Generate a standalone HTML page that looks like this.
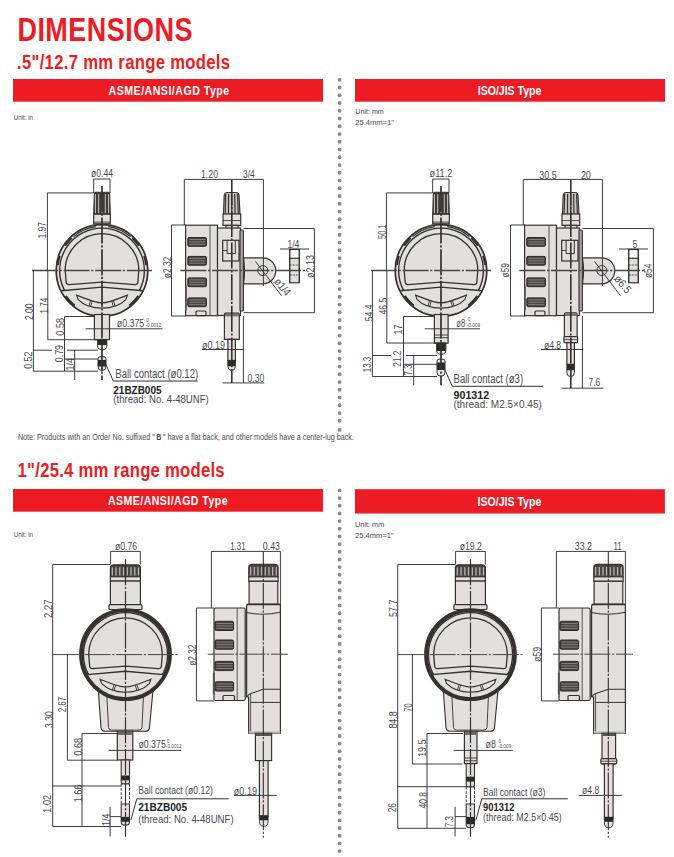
<!DOCTYPE html>
<html><head><meta charset="utf-8"><style>
html,body{margin:0;padding:0;background:#fff;width:674px;height:857px;overflow:hidden}
svg{display:block;font-family:"Liberation Sans", sans-serif}
</style></head><body>
<svg width="674" height="857" viewBox="0 0 674 857">
<text x="21.08" y="40.8" transform="scale(0.83,1)" font-size="32.5" fill="#ed1c24" font-weight="bold" textLength="210.8" lengthAdjust="spacing">DIMENSIONS</text>
<text x="19.77" y="69.0" transform="scale(0.86,1)" font-size="19.4" fill="#ed1c24" font-weight="bold" textLength="247.7" lengthAdjust="spacing">.5"/12.7 mm range models</text>
<rect x="13" y="79" width="310" height="22.7" fill="#ed1c24"/>
<rect x="355" y="79" width="310" height="22.7" fill="#ed1c24"/>
<text x="129.29" y="94.7" transform="scale(0.84,1)" font-size="12.6" fill="#fff" font-weight="bold" textLength="143.5" lengthAdjust="spacing">ASME/ANSI/AGD Type</text>
<text x="568.81" y="94.7" transform="scale(0.84,1)" font-size="12.6" fill="#fff" font-weight="bold" textLength="75.6" lengthAdjust="spacing">ISO/JIS Type</text>
<text x="13.8" y="119.8" font-size="7.6" fill="#4a4a52" font-weight="normal" text-anchor="start" textLength="19.2" lengthAdjust="spacingAndGlyphs">Unit: in</text>
<text x="355.3" y="113.8" font-size="7.6" fill="#4a4a52" font-weight="normal" text-anchor="start" textLength="28.5" lengthAdjust="spacingAndGlyphs">Unit: mm</text>
<text x="355.3" y="124.5" font-size="7.6" fill="#4a4a52" font-weight="normal" text-anchor="start" textLength="38.7" lengthAdjust="spacingAndGlyphs">25.4mm=1"</text>
<text x="17.9" y="440" font-size="8.6" fill="#4a4a52" textLength="336" lengthAdjust="spacingAndGlyphs">Note: Products with an Order No. suffixed "&#8201;<tspan font-weight="bold">B</tspan>&#8201;" have a flat back, and other models have a center-lug back.</text>
<circle cx="339.6" cy="79.8" r="1.95" fill="#8a8a8a"/>
<circle cx="339.6" cy="87.5" r="1.95" fill="#8a8a8a"/>
<circle cx="339.6" cy="95.3" r="1.95" fill="#8a8a8a"/>
<circle cx="339.6" cy="103.0" r="1.95" fill="#8a8a8a"/>
<circle cx="339.6" cy="110.8" r="1.95" fill="#8a8a8a"/>
<circle cx="339.6" cy="118.5" r="1.95" fill="#8a8a8a"/>
<circle cx="339.6" cy="126.3" r="1.95" fill="#8a8a8a"/>
<circle cx="339.6" cy="134.1" r="1.95" fill="#8a8a8a"/>
<circle cx="339.6" cy="141.8" r="1.95" fill="#8a8a8a"/>
<circle cx="339.6" cy="149.6" r="1.95" fill="#8a8a8a"/>
<circle cx="339.6" cy="157.3" r="1.95" fill="#8a8a8a"/>
<circle cx="339.6" cy="165.1" r="1.95" fill="#8a8a8a"/>
<circle cx="339.6" cy="172.8" r="1.95" fill="#8a8a8a"/>
<circle cx="339.6" cy="180.6" r="1.95" fill="#8a8a8a"/>
<circle cx="339.6" cy="188.3" r="1.95" fill="#8a8a8a"/>
<circle cx="339.6" cy="196.1" r="1.95" fill="#8a8a8a"/>
<circle cx="339.6" cy="203.8" r="1.95" fill="#8a8a8a"/>
<circle cx="339.6" cy="211.6" r="1.95" fill="#8a8a8a"/>
<circle cx="339.6" cy="219.3" r="1.95" fill="#8a8a8a"/>
<circle cx="339.6" cy="227.1" r="1.95" fill="#8a8a8a"/>
<circle cx="339.6" cy="234.8" r="1.95" fill="#8a8a8a"/>
<circle cx="339.6" cy="242.6" r="1.95" fill="#8a8a8a"/>
<circle cx="339.6" cy="250.3" r="1.95" fill="#8a8a8a"/>
<circle cx="339.6" cy="258.1" r="1.95" fill="#8a8a8a"/>
<circle cx="339.6" cy="265.8" r="1.95" fill="#8a8a8a"/>
<circle cx="339.6" cy="273.6" r="1.95" fill="#8a8a8a"/>
<circle cx="339.6" cy="281.3" r="1.95" fill="#8a8a8a"/>
<circle cx="339.6" cy="289.1" r="1.95" fill="#8a8a8a"/>
<circle cx="339.6" cy="296.8" r="1.95" fill="#8a8a8a"/>
<circle cx="339.6" cy="304.6" r="1.95" fill="#8a8a8a"/>
<circle cx="339.6" cy="312.3" r="1.95" fill="#8a8a8a"/>
<circle cx="339.6" cy="320.1" r="1.95" fill="#8a8a8a"/>
<circle cx="339.6" cy="327.8" r="1.95" fill="#8a8a8a"/>
<circle cx="339.6" cy="335.6" r="1.95" fill="#8a8a8a"/>
<circle cx="339.6" cy="343.3" r="1.95" fill="#8a8a8a"/>
<circle cx="339.6" cy="351.1" r="1.95" fill="#8a8a8a"/>
<circle cx="339.6" cy="358.8" r="1.95" fill="#8a8a8a"/>
<circle cx="339.6" cy="366.6" r="1.95" fill="#8a8a8a"/>
<circle cx="339.6" cy="374.3" r="1.95" fill="#8a8a8a"/>
<circle cx="339.6" cy="382.1" r="1.95" fill="#8a8a8a"/>
<circle cx="339.6" cy="389.8" r="1.95" fill="#8a8a8a"/>
<circle cx="339.6" cy="397.6" r="1.95" fill="#8a8a8a"/>
<circle cx="339.6" cy="405.3" r="1.95" fill="#8a8a8a"/>
<circle cx="339.6" cy="413.1" r="1.95" fill="#8a8a8a"/>
<circle cx="339.6" cy="420.8" r="1.95" fill="#8a8a8a"/>
<circle cx="339.6" cy="429.9" r="1.95" fill="#8a8a8a"/>
<circle cx="339.6" cy="490.4" r="1.95" fill="#8a8a8a"/>
<circle cx="339.6" cy="498.1" r="1.95" fill="#8a8a8a"/>
<circle cx="339.6" cy="505.7" r="1.95" fill="#8a8a8a"/>
<circle cx="339.6" cy="513.4" r="1.95" fill="#8a8a8a"/>
<circle cx="339.6" cy="521.1" r="1.95" fill="#8a8a8a"/>
<circle cx="339.6" cy="528.8" r="1.95" fill="#8a8a8a"/>
<circle cx="339.6" cy="536.4" r="1.95" fill="#8a8a8a"/>
<circle cx="339.6" cy="544.1" r="1.95" fill="#8a8a8a"/>
<circle cx="339.6" cy="551.8" r="1.95" fill="#8a8a8a"/>
<circle cx="339.6" cy="559.5" r="1.95" fill="#8a8a8a"/>
<circle cx="339.6" cy="567.1" r="1.95" fill="#8a8a8a"/>
<circle cx="339.6" cy="574.8" r="1.95" fill="#8a8a8a"/>
<circle cx="339.6" cy="582.5" r="1.95" fill="#8a8a8a"/>
<circle cx="339.6" cy="590.2" r="1.95" fill="#8a8a8a"/>
<circle cx="339.6" cy="597.8" r="1.95" fill="#8a8a8a"/>
<circle cx="339.6" cy="605.5" r="1.95" fill="#8a8a8a"/>
<circle cx="339.6" cy="613.2" r="1.95" fill="#8a8a8a"/>
<circle cx="339.6" cy="620.9" r="1.95" fill="#8a8a8a"/>
<circle cx="339.6" cy="628.5" r="1.95" fill="#8a8a8a"/>
<circle cx="339.6" cy="636.2" r="1.95" fill="#8a8a8a"/>
<circle cx="339.6" cy="643.9" r="1.95" fill="#8a8a8a"/>
<circle cx="339.6" cy="651.6" r="1.95" fill="#8a8a8a"/>
<circle cx="339.6" cy="659.2" r="1.95" fill="#8a8a8a"/>
<circle cx="339.6" cy="666.9" r="1.95" fill="#8a8a8a"/>
<circle cx="339.6" cy="674.6" r="1.95" fill="#8a8a8a"/>
<circle cx="339.6" cy="682.2" r="1.95" fill="#8a8a8a"/>
<circle cx="339.6" cy="689.9" r="1.95" fill="#8a8a8a"/>
<circle cx="339.6" cy="697.6" r="1.95" fill="#8a8a8a"/>
<circle cx="339.6" cy="705.3" r="1.95" fill="#8a8a8a"/>
<circle cx="339.6" cy="712.9" r="1.95" fill="#8a8a8a"/>
<circle cx="339.6" cy="720.6" r="1.95" fill="#8a8a8a"/>
<circle cx="339.6" cy="728.3" r="1.95" fill="#8a8a8a"/>
<circle cx="339.6" cy="736.0" r="1.95" fill="#8a8a8a"/>
<circle cx="339.6" cy="743.6" r="1.95" fill="#8a8a8a"/>
<circle cx="339.6" cy="751.3" r="1.95" fill="#8a8a8a"/>
<circle cx="339.6" cy="759.0" r="1.95" fill="#8a8a8a"/>
<circle cx="339.6" cy="766.7" r="1.95" fill="#8a8a8a"/>
<circle cx="339.6" cy="774.3" r="1.95" fill="#8a8a8a"/>
<circle cx="339.6" cy="782.0" r="1.95" fill="#8a8a8a"/>
<circle cx="339.6" cy="789.7" r="1.95" fill="#8a8a8a"/>
<circle cx="339.6" cy="797.4" r="1.95" fill="#8a8a8a"/>
<circle cx="339.6" cy="805.0" r="1.95" fill="#8a8a8a"/>
<circle cx="339.6" cy="812.7" r="1.95" fill="#8a8a8a"/>
<circle cx="339.6" cy="820.4" r="1.95" fill="#8a8a8a"/>
<circle cx="339.6" cy="828.1" r="1.95" fill="#8a8a8a"/>
<circle cx="339.6" cy="835.7" r="1.95" fill="#8a8a8a"/>
<circle cx="339.6" cy="843.4" r="1.95" fill="#8a8a8a"/>
<circle cx="339.6" cy="851.1" r="1.95" fill="#8a8a8a"/>
<text x="20.47" y="477.1" transform="scale(0.86,1)" font-size="19.4" fill="#ed1c24" font-weight="bold" textLength="240.7" lengthAdjust="spacing">1"/25.4 mm range models</text>
<rect x="13" y="489" width="310" height="22.7" fill="#ed1c24"/>
<rect x="354.9" y="489.2" width="310" height="24.3" fill="#ed1c24"/>
<text x="128.57" y="504.7" transform="scale(0.84,1)" font-size="12.6" fill="#fff" font-weight="bold" textLength="142.3" lengthAdjust="spacing">ASME/ANSI/AGD Type</text>
<text x="568.45" y="505.8" transform="scale(0.84,1)" font-size="12.6" fill="#fff" font-weight="bold" textLength="76.0" lengthAdjust="spacing">ISO/JIS Type</text>
<text x="13.8" y="536.8" font-size="7.6" fill="#4a4a52" font-weight="normal" text-anchor="start" textLength="19.2" lengthAdjust="spacingAndGlyphs">Unit: in</text>
<text x="355.1" y="527.0" font-size="8.0" fill="#4a4a52" font-weight="normal" text-anchor="start" textLength="29.1" lengthAdjust="spacingAndGlyphs">Unit: mm</text>
<text x="355.1" y="537.6" font-size="8.0" fill="#4a4a52" font-weight="normal" text-anchor="start" textLength="38.6" lengthAdjust="spacingAndGlyphs">25.4mm=1"</text>
<path d="M93.7,214.2 L94.3,194.2 Q94.5,192.2 95.7,192.2 L108.3,192.2 Q109.5,192.2 109.7,194.2 L110.3,214.2 Z" fill="#3f3b3b" stroke="#353131" stroke-width="1.1"/>
<line x1="95.4" y1="194.2" x2="95.4" y2="213.2" stroke="#c9c4c4" stroke-width="1.0"/>
<line x1="98.7" y1="194.2" x2="98.7" y2="213.2" stroke="#c9c4c4" stroke-width="1.0"/>
<line x1="102.0" y1="194.2" x2="102.0" y2="213.2" stroke="#c9c4c4" stroke-width="1.0"/>
<line x1="105.3" y1="194.2" x2="105.3" y2="213.2" stroke="#c9c4c4" stroke-width="1.0"/>
<line x1="108.6" y1="194.2" x2="108.6" y2="213.2" stroke="#c9c4c4" stroke-width="1.0"/>
<rect x="93.7" y="214.2" width="16.6" height="9.6" rx="0" fill="#e3dfde" stroke="#353131" stroke-width="1.2"/>
<line x1="93.7" y1="222.1" x2="110.3" y2="222.1" stroke="#353131" stroke-width="0.9"/>
<circle cx="102" cy="270.5" r="45.8" fill="#e3dfde" stroke="#353131" stroke-width="1.7"/>
<path d="M71.7,238.0 A44.4,44.4 0 0 0 65.2,245.7" fill="none" stroke="#353131" stroke-width="1.9"/>
<path d="M60.0,256.0 A44.4,44.4 0 0 0 57.9,265.1" fill="none" stroke="#353131" stroke-width="1.9"/>
<path d="M138.8,245.7 A44.4,44.4 0 0 0 132.3,238.0" fill="none" stroke="#353131" stroke-width="1.9"/>
<path d="M146.1,265.1 A44.4,44.4 0 0 0 144.0,256.0" fill="none" stroke="#353131" stroke-width="1.9"/>
<path d="M95.8,226.6 A44.3,44.3 0 0 0 73.5,236.6" fill="none" stroke="#353131" stroke-width="1.2"/>
<path d="M130.5,236.6 A44.3,44.3 0 0 0 108.2,226.6" fill="none" stroke="#353131" stroke-width="1.2"/>
<path d="M65.5,296.0 A44.5,44.5 0 0 0 74.6,305.6" fill="none" stroke="#353131" stroke-width="2.4"/>
<path d="M129.4,305.6 A44.5,44.5 0 0 0 138.5,296.0" fill="none" stroke="#353131" stroke-width="2.4"/>
<path d="M64.5,290.3 A42.4,42.4 0 1 1 139.5,290.3 L142.7,290.8 L102,287.1 L61.3,290.8 Z" fill="#e3dfde" stroke="#353131" stroke-width="1.4"/>
<path d="M65.2,270.5 A36.8,36.8 0 0 1 138.8,270.5 L137.8,282.4 Q137.4,284.7 135.0,284.6 L102,282.1 L69.0,284.6 Q66.6,284.7 66.2,282.4 Z" fill="#e3dfde" stroke="#353131" stroke-width="1.3"/>
<path d="M76.6,295.1 C85,298.5 95,302.9 102,302.9 C109,302.9 119,298.5 127.4,295.1 L126,299.3 C120,305.5 110,308.1 102,308.1 C94,308.1 84,305.5 78,299.3 Z" fill="#e3dfde" stroke="#353131" stroke-width="1.1"/>
<line x1="113.6" y1="301.0" x2="115.1" y2="306.1" stroke="#353131" stroke-width="0.9"/>
<line x1="111.8" y1="301.0" x2="113.3" y2="306.1" stroke="#353131" stroke-width="0.9"/>
<line x1="90.4" y1="301.0" x2="88.9" y2="306.1" stroke="#353131" stroke-width="0.9"/>
<line x1="92.2" y1="301.0" x2="90.7" y2="306.1" stroke="#353131" stroke-width="0.9"/>
<rect x="94.4" y="314.5" width="15.1" height="25.2" rx="0" fill="#e3dfde" stroke="#353131" stroke-width="1.2"/>
<path d="M97.6,339.6 L106.8,339.6 L106.8,345.8 Q106.8,349.8 102.2,349.8 Q97.6,349.8 97.6,345.8 Z" fill="#e9e6e6" stroke="#353131" stroke-width="1.0"/>
<rect x="97.6" y="339.6" width="9.2" height="5.4" rx="0" fill="#2b2828" stroke="none" stroke-width="0"/>
<path d="M98,358.7 Q98,356.7 100,356.7 L104,356.7 Q106,356.7 106,358.7 L106,366.6 Q106,370.6 102,370.6 Q98,370.6 98,366.6 Z" fill="#e9e6e6" stroke="#353131" stroke-width="1.0"/>
<rect x="98.0" y="360.0" width="8.0" height="6.5" rx="0" fill="#2b2828" stroke="none" stroke-width="0"/>
<line x1="102.0" y1="186.0" x2="102.0" y2="380.0" stroke="#353131" stroke-width="1.7" stroke-dasharray="26 1.6 2.2 1.8"/>
<line x1="32.0" y1="270.5" x2="152.0" y2="270.5" stroke="#4a4646" stroke-width="1.3" stroke-dasharray="26 1.6 2.2 1.8"/>
<line x1="93.7" y1="179.0" x2="110.0" y2="179.0" stroke="#353333" stroke-width="0.95"/>
<line x1="93.7" y1="179.0" x2="93.7" y2="193.0" stroke="#353333" stroke-width="0.95"/>
<line x1="110.0" y1="179.0" x2="110.0" y2="193.0" stroke="#353333" stroke-width="0.95"/>
<line x1="47.4" y1="192.9" x2="93.7" y2="192.9" stroke="#353333" stroke-width="0.95"/>
<line x1="47.4" y1="192.9" x2="47.4" y2="270.5" stroke="#353333" stroke-width="0.95"/>
<line x1="33.4" y1="270.5" x2="33.4" y2="371.2" stroke="#353333" stroke-width="0.95"/>
<line x1="47.8" y1="270.5" x2="47.8" y2="339.7" stroke="#353333" stroke-width="0.95"/>
<line x1="47.8" y1="339.7" x2="98.0" y2="339.7" stroke="#353333" stroke-width="0.95"/>
<line x1="64.5" y1="316.5" x2="94.4" y2="316.5" stroke="#353333" stroke-width="0.95"/>
<line x1="64.5" y1="316.5" x2="64.5" y2="371.0" stroke="#353333" stroke-width="0.95"/>
<line x1="33.4" y1="350.2" x2="52.0" y2="350.2" stroke="#353333" stroke-width="0.95"/>
<line x1="67.0" y1="350.2" x2="98.0" y2="350.2" stroke="#353333" stroke-width="0.95"/>
<line x1="64.5" y1="359.0" x2="98.0" y2="359.0" stroke="#353333" stroke-width="0.95"/>
<line x1="74.7" y1="350.2" x2="74.7" y2="380.0" stroke="#353333" stroke-width="0.95"/>
<line x1="33.4" y1="371.2" x2="98.0" y2="371.2" stroke="#353333" stroke-width="0.95"/>
<line x1="85.7" y1="328.8" x2="162.4" y2="328.8" stroke="#353333" stroke-width="0.95"/>
<line x1="171.5" y1="225.0" x2="171.5" y2="316.0" stroke="#353333" stroke-width="0.95"/>
<line x1="171.5" y1="225.0" x2="186.0" y2="225.0" stroke="#353333" stroke-width="0.95"/>
<line x1="171.5" y1="316.0" x2="186.0" y2="316.0" stroke="#353333" stroke-width="0.95"/>
<line x1="105.4" y1="363.3" x2="113.3" y2="381.0" stroke="#353131" stroke-width="1.0"/>
<line x1="113.3" y1="381.0" x2="197.8" y2="381.0" stroke="#353131" stroke-width="1.0"/>
<path d="M223.5,214.3 L224.20000000000002,195.5 Q224.50000000000003,192.5 227.20000000000002,192.5 L236.0,192.5 Q238.7,192.5 239.0,195.5 L240.0,214.3 Z" fill="#c9c4c3" stroke="#353131" stroke-width="1.2"/>
<line x1="225.7" y1="194.0" x2="225.2" y2="213.8" stroke="#3a3636" stroke-width="1.2"/>
<line x1="228.6" y1="194.0" x2="228.4" y2="213.8" stroke="#3a3636" stroke-width="1.2"/>
<line x1="231.6" y1="194.0" x2="231.8" y2="213.8" stroke="#3a3636" stroke-width="1.2"/>
<line x1="234.6" y1="194.0" x2="235.1" y2="213.8" stroke="#3a3636" stroke-width="1.2"/>
<line x1="237.5" y1="194.0" x2="238.3" y2="213.8" stroke="#3a3636" stroke-width="1.2"/>
<rect x="223.0" y="214.0" width="17.7" height="11.4" rx="0" fill="#e3dfde" stroke="#353131" stroke-width="1.2"/>
<line x1="223.0" y1="220.5" x2="240.7" y2="220.5" stroke="#353131" stroke-width="0.8"/>
<rect x="226.0" y="225.4" width="12.0" height="3.6" rx="0" fill="#e3dfde" stroke="#353131" stroke-width="1.2"/>
<rect x="185.6" y="225.2" width="31.9" height="90.5" rx="0" fill="#e3dfde" stroke="#353131" stroke-width="1.2"/>
<line x1="210.0" y1="225.2" x2="210.0" y2="315.7" stroke="#353131" stroke-width="0.8"/>
<rect x="187.8" y="237.5" width="18.6" height="8.8" rx="1.2" fill="#4a4646" stroke="#2a2727" stroke-width="1.0"/>
<line x1="189.3" y1="239.5" x2="205.3" y2="239.5" stroke="#9a9595" stroke-width="0.7"/>
<line x1="189.3" y1="241.9" x2="205.3" y2="241.9" stroke="#9a9595" stroke-width="0.7"/>
<line x1="189.3" y1="244.3" x2="205.3" y2="244.3" stroke="#9a9595" stroke-width="0.7"/>
<rect x="187.8" y="256.4" width="18.6" height="8.8" rx="1.2" fill="#4a4646" stroke="#2a2727" stroke-width="1.0"/>
<line x1="189.3" y1="258.4" x2="205.3" y2="258.4" stroke="#9a9595" stroke-width="0.7"/>
<line x1="189.3" y1="260.8" x2="205.3" y2="260.8" stroke="#9a9595" stroke-width="0.7"/>
<line x1="189.3" y1="263.2" x2="205.3" y2="263.2" stroke="#9a9595" stroke-width="0.7"/>
<rect x="187.8" y="277.9" width="18.6" height="8.8" rx="1.2" fill="#4a4646" stroke="#2a2727" stroke-width="1.0"/>
<line x1="189.3" y1="279.9" x2="205.3" y2="279.9" stroke="#9a9595" stroke-width="0.7"/>
<line x1="189.3" y1="282.3" x2="205.3" y2="282.3" stroke="#9a9595" stroke-width="0.7"/>
<line x1="189.3" y1="284.7" x2="205.3" y2="284.7" stroke="#9a9595" stroke-width="0.7"/>
<rect x="187.8" y="297.9" width="18.6" height="8.8" rx="1.2" fill="#4a4646" stroke="#2a2727" stroke-width="1.0"/>
<line x1="189.3" y1="299.9" x2="205.3" y2="299.9" stroke="#9a9595" stroke-width="0.7"/>
<line x1="189.3" y1="302.3" x2="205.3" y2="302.3" stroke="#9a9595" stroke-width="0.7"/>
<line x1="189.3" y1="304.7" x2="205.3" y2="304.7" stroke="#9a9595" stroke-width="0.7"/>
<rect x="196.0" y="311.0" width="10.0" height="4.7" rx="1" fill="#e3dfde" stroke="#353131" stroke-width="1.2"/>
<rect x="185.2" y="285.5" width="1.6" height="25.0" rx="0" fill="#555" stroke="none" stroke-width="0"/>
<rect x="217.5" y="228.0" width="23.0" height="87.5" rx="0" fill="#e3dfde" stroke="#353131" stroke-width="1.2"/>
<rect x="222.7" y="240.3" width="16.3" height="20.7" rx="0" fill="#e3dfde" stroke="#353131" stroke-width="1.2"/>
<path d="M227.10000000000002,240.3 L227.10000000000002,253.6 L235.3,253.6 L235.3,240.3" fill="none" stroke="#353131" stroke-width="1.0"/>
<line x1="222.7" y1="250.5" x2="227.1" y2="250.5" stroke="#353131" stroke-width="0.9"/>
<rect x="240.0" y="230.0" width="3.4" height="81.0" rx="1" fill="#a9a4a4" stroke="#353131" stroke-width="1.1"/>
<path d="M243.5,257.8 L262.8,257.8 A13,13 0 0 1 262.8,283.8 L243.5,283.8 Q245.5,270.5 243.5,257.8 Z" fill="#e3dfde" stroke="#353131" stroke-width="1.2"/>
<circle cx="262.8" cy="270.5" r="5" fill="none" stroke="#353131" stroke-width="1"/>
<rect x="289.7" y="249.5" width="9.6" height="33.3" rx="0" fill="#e3dfde" stroke="#353131" stroke-width="1.2"/>
<rect x="289.7" y="249.5" width="9.6" height="8.8" rx="0" fill="#fff" stroke="#353131" stroke-width="1.2"/>
<line x1="289.7" y1="265.0" x2="299.3" y2="265.0" stroke="#353131" stroke-width="0.8" stroke-dasharray="2 1"/>
<line x1="289.7" y1="275.0" x2="299.3" y2="275.0" stroke="#353131" stroke-width="0.8" stroke-dasharray="2 1"/>
<path d="M224.4,339.4 L224.4,314.7 Q224.4,313.2 225.9,313.2 L237.8,313.2 Q239.3,313.2 239.3,314.7 L239.3,339.4 Z" fill="#e3dfde" stroke="#353131" stroke-width="1.2"/>
<rect x="225.0" y="313.8" width="13.7" height="2.6" rx="0" fill="#777" stroke="none" stroke-width="0"/>
<rect x="227.9" y="339.4" width="7.5" height="21.1" rx="0" fill="#e3dfde" stroke="#353131" stroke-width="1.2"/>
<path d="M227.9,360.5 L235.4,360.5 L235.4,366.5 Q235.4,370.5 231.65,370.5 Q227.9,370.5 227.9,366.5 Z" fill="#e9e6e6" stroke="#353131" stroke-width="1.0"/>
<rect x="227.9" y="360.5" width="7.5" height="5.8" rx="0" fill="#2b2828" stroke="none" stroke-width="0"/>
<line x1="231.8" y1="179.4" x2="231.8" y2="383.0" stroke="#353131" stroke-width="1.6" stroke-dasharray="26 1.6 2.2 1.8"/>
<line x1="180.4" y1="270.5" x2="305.0" y2="270.5" stroke="#4a4646" stroke-width="1.3" stroke-dasharray="26 1.6 2.2 1.8"/>
<line x1="184.3" y1="179.4" x2="263.4" y2="179.4" stroke="#353333" stroke-width="0.95"/>
<line x1="184.3" y1="179.4" x2="184.3" y2="225.0" stroke="#353333" stroke-width="0.95"/>
<line x1="263.4" y1="179.4" x2="263.4" y2="286.0" stroke="#353333" stroke-width="0.95"/>
<line x1="243.5" y1="228.5" x2="314.4" y2="228.5" stroke="#353333" stroke-width="0.95"/>
<line x1="243.5" y1="312.7" x2="314.4" y2="312.7" stroke="#353333" stroke-width="0.95"/>
<line x1="314.4" y1="228.5" x2="314.4" y2="312.7" stroke="#353333" stroke-width="0.95"/>
<line x1="255.5" y1="261.5" x2="281.5" y2="295.7" stroke="#353333" stroke-width="0.95"/>
<line x1="280.0" y1="249.0" x2="309.0" y2="249.0" stroke="#353333" stroke-width="0.95"/>
<line x1="289.7" y1="249.0" x2="289.7" y2="283.0" stroke="#353333" stroke-width="0.95"/>
<line x1="299.3" y1="249.0" x2="299.3" y2="283.0" stroke="#353333" stroke-width="0.95"/>
<line x1="202.0" y1="349.5" x2="244.0" y2="349.5" stroke="#353333" stroke-width="0.95"/>
<line x1="243.4" y1="316.0" x2="243.4" y2="383.0" stroke="#353333" stroke-width="0.95"/>
<line x1="222.6" y1="382.9" x2="264.2" y2="382.9" stroke="#353333" stroke-width="0.95"/>
<path d="M432.7,214.2 L433.3,194.2 Q433.5,192.2 434.7,192.2 L447.3,192.2 Q448.5,192.2 448.7,194.2 L449.3,214.2 Z" fill="#3f3b3b" stroke="#353131" stroke-width="1.1"/>
<line x1="434.4" y1="194.2" x2="434.4" y2="213.2" stroke="#c9c4c4" stroke-width="1.0"/>
<line x1="437.7" y1="194.2" x2="437.7" y2="213.2" stroke="#c9c4c4" stroke-width="1.0"/>
<line x1="441.0" y1="194.2" x2="441.0" y2="213.2" stroke="#c9c4c4" stroke-width="1.0"/>
<line x1="444.3" y1="194.2" x2="444.3" y2="213.2" stroke="#c9c4c4" stroke-width="1.0"/>
<line x1="447.6" y1="194.2" x2="447.6" y2="213.2" stroke="#c9c4c4" stroke-width="1.0"/>
<rect x="432.7" y="214.2" width="16.6" height="9.6" rx="0" fill="#e3dfde" stroke="#353131" stroke-width="1.2"/>
<line x1="432.7" y1="222.1" x2="449.3" y2="222.1" stroke="#353131" stroke-width="0.9"/>
<circle cx="441" cy="270.5" r="45.8" fill="#e3dfde" stroke="#353131" stroke-width="1.7"/>
<path d="M410.7,238.0 A44.4,44.4 0 0 0 404.2,245.7" fill="none" stroke="#353131" stroke-width="1.9"/>
<path d="M399.0,256.0 A44.4,44.4 0 0 0 396.9,265.1" fill="none" stroke="#353131" stroke-width="1.9"/>
<path d="M477.8,245.7 A44.4,44.4 0 0 0 471.3,238.0" fill="none" stroke="#353131" stroke-width="1.9"/>
<path d="M485.1,265.1 A44.4,44.4 0 0 0 483.0,256.0" fill="none" stroke="#353131" stroke-width="1.9"/>
<path d="M434.8,226.6 A44.3,44.3 0 0 0 412.5,236.6" fill="none" stroke="#353131" stroke-width="1.2"/>
<path d="M469.5,236.6 A44.3,44.3 0 0 0 447.2,226.6" fill="none" stroke="#353131" stroke-width="1.2"/>
<path d="M404.5,296.0 A44.5,44.5 0 0 0 413.6,305.6" fill="none" stroke="#353131" stroke-width="2.4"/>
<path d="M468.4,305.6 A44.5,44.5 0 0 0 477.5,296.0" fill="none" stroke="#353131" stroke-width="2.4"/>
<path d="M403.5,290.3 A42.4,42.4 0 1 1 478.5,290.3 L481.7,290.8 L441,287.1 L400.3,290.8 Z" fill="#e3dfde" stroke="#353131" stroke-width="1.4"/>
<path d="M404.2,270.5 A36.8,36.8 0 0 1 477.8,270.5 L476.8,282.4 Q476.4,284.7 474.0,284.6 L441,282.1 L408.0,284.6 Q405.6,284.7 405.2,282.4 Z" fill="#e3dfde" stroke="#353131" stroke-width="1.3"/>
<path d="M415.6,295.1 C424,298.5 434,302.9 441,302.9 C448,302.9 458,298.5 466.4,295.1 L465,299.3 C459,305.5 449,308.1 441,308.1 C433,308.1 423,305.5 417,299.3 Z" fill="#e3dfde" stroke="#353131" stroke-width="1.1"/>
<line x1="452.6" y1="301.0" x2="454.1" y2="306.1" stroke="#353131" stroke-width="0.9"/>
<line x1="450.8" y1="301.0" x2="452.3" y2="306.1" stroke="#353131" stroke-width="0.9"/>
<line x1="429.4" y1="301.0" x2="427.9" y2="306.1" stroke="#353131" stroke-width="0.9"/>
<line x1="431.2" y1="301.0" x2="429.7" y2="306.1" stroke="#353131" stroke-width="0.9"/>
<rect x="434.4" y="314.5" width="13.7" height="28.7" rx="0" fill="#e3dfde" stroke="#353131" stroke-width="1.2"/>
<line x1="434.4" y1="335.0" x2="448.1" y2="335.0" stroke="#353131" stroke-width="0.9"/>
<line x1="434.4" y1="337.7" x2="448.1" y2="337.7" stroke="#353131" stroke-width="0.9"/>
<path d="M436.6,342.9 L445.8,342.9 L445.8,350.3 Q445.8,354.3 441.2,354.3 Q436.6,354.3 436.6,350.3 Z" fill="#e9e6e6" stroke="#353131" stroke-width="1.0"/>
<rect x="436.6" y="342.9" width="9.2" height="8.1" rx="0" fill="#2b2828" stroke="none" stroke-width="0"/>
<path d="M437,361.2 Q437,359.2 439,359.2 L443,359.2 Q445,359.2 445,361.2 L445,372.3 Q445,376.3 441,376.3 Q437,376.3 437,372.3 Z" fill="#e9e6e6" stroke="#353131" stroke-width="1.0"/>
<rect x="437.0" y="362.5" width="8.0" height="7.5" rx="0" fill="#2b2828" stroke="none" stroke-width="0"/>
<line x1="441.0" y1="186.0" x2="441.0" y2="385.3" stroke="#353131" stroke-width="1.7" stroke-dasharray="26 1.6 2.2 1.8"/>
<line x1="371.0" y1="270.5" x2="491.0" y2="270.5" stroke="#4a4646" stroke-width="1.3" stroke-dasharray="26 1.6 2.2 1.8"/>
<line x1="432.7" y1="179.0" x2="449.0" y2="179.0" stroke="#353333" stroke-width="0.95"/>
<line x1="432.7" y1="179.0" x2="432.7" y2="193.0" stroke="#353333" stroke-width="0.95"/>
<line x1="449.0" y1="179.0" x2="449.0" y2="193.0" stroke="#353333" stroke-width="0.95"/>
<line x1="386.4" y1="192.9" x2="432.7" y2="192.9" stroke="#353333" stroke-width="0.95"/>
<line x1="386.4" y1="192.9" x2="386.4" y2="270.5" stroke="#353333" stroke-width="0.95"/>
<line x1="372.4" y1="270.5" x2="372.4" y2="376.5" stroke="#353333" stroke-width="0.95"/>
<line x1="386.8" y1="270.5" x2="386.8" y2="343.0" stroke="#353333" stroke-width="0.95"/>
<line x1="386.8" y1="343.0" x2="437.0" y2="343.0" stroke="#353333" stroke-width="0.95"/>
<line x1="403.5" y1="316.5" x2="433.4" y2="316.5" stroke="#353333" stroke-width="0.95"/>
<line x1="403.5" y1="316.5" x2="403.5" y2="376.3" stroke="#353333" stroke-width="0.95"/>
<line x1="372.4" y1="355.5" x2="391.0" y2="355.5" stroke="#353333" stroke-width="0.95"/>
<line x1="406.0" y1="355.5" x2="437.0" y2="355.5" stroke="#353333" stroke-width="0.95"/>
<line x1="403.5" y1="364.3" x2="437.0" y2="364.3" stroke="#353333" stroke-width="0.95"/>
<line x1="413.7" y1="355.5" x2="413.7" y2="385.3" stroke="#353333" stroke-width="0.95"/>
<line x1="372.4" y1="376.5" x2="437.0" y2="376.5" stroke="#353333" stroke-width="0.95"/>
<line x1="424.7" y1="328.8" x2="480.0" y2="328.8" stroke="#353333" stroke-width="0.95"/>
<line x1="510.5" y1="225.0" x2="510.5" y2="316.0" stroke="#353333" stroke-width="0.95"/>
<line x1="510.5" y1="225.0" x2="525.0" y2="225.0" stroke="#353333" stroke-width="0.95"/>
<line x1="510.5" y1="316.0" x2="525.0" y2="316.0" stroke="#353333" stroke-width="0.95"/>
<line x1="444.4" y1="368.6" x2="452.3" y2="386.3" stroke="#353131" stroke-width="1.0"/>
<line x1="452.3" y1="386.3" x2="543.0" y2="386.3" stroke="#353131" stroke-width="1.0"/>
<path d="M562.5,214.3 L563.1999999999999,195.5 Q563.4999999999999,192.5 566.1999999999999,192.5 L575.0,192.5 Q577.7,192.5 578.0,195.5 L579.0,214.3 Z" fill="#c9c4c3" stroke="#353131" stroke-width="1.2"/>
<line x1="564.7" y1="194.0" x2="564.1" y2="213.8" stroke="#3a3636" stroke-width="1.2"/>
<line x1="567.6" y1="194.0" x2="567.5" y2="213.8" stroke="#3a3636" stroke-width="1.2"/>
<line x1="570.6" y1="194.0" x2="570.8" y2="213.8" stroke="#3a3636" stroke-width="1.2"/>
<line x1="573.6" y1="194.0" x2="574.0" y2="213.8" stroke="#3a3636" stroke-width="1.2"/>
<line x1="576.5" y1="194.0" x2="577.4" y2="213.8" stroke="#3a3636" stroke-width="1.2"/>
<rect x="562.0" y="214.0" width="17.7" height="11.4" rx="0" fill="#e3dfde" stroke="#353131" stroke-width="1.2"/>
<line x1="562.0" y1="220.5" x2="579.7" y2="220.5" stroke="#353131" stroke-width="0.8"/>
<rect x="565.0" y="225.4" width="12.0" height="3.6" rx="0" fill="#e3dfde" stroke="#353131" stroke-width="1.2"/>
<rect x="524.6" y="225.2" width="31.9" height="90.5" rx="0" fill="#e3dfde" stroke="#353131" stroke-width="1.2"/>
<line x1="549.0" y1="225.2" x2="549.0" y2="315.7" stroke="#353131" stroke-width="0.8"/>
<rect x="526.8" y="237.5" width="18.6" height="8.8" rx="1.2" fill="#4a4646" stroke="#2a2727" stroke-width="1.0"/>
<line x1="528.3" y1="239.5" x2="544.3" y2="239.5" stroke="#9a9595" stroke-width="0.7"/>
<line x1="528.3" y1="241.9" x2="544.3" y2="241.9" stroke="#9a9595" stroke-width="0.7"/>
<line x1="528.3" y1="244.3" x2="544.3" y2="244.3" stroke="#9a9595" stroke-width="0.7"/>
<rect x="526.8" y="256.4" width="18.6" height="8.8" rx="1.2" fill="#4a4646" stroke="#2a2727" stroke-width="1.0"/>
<line x1="528.3" y1="258.4" x2="544.3" y2="258.4" stroke="#9a9595" stroke-width="0.7"/>
<line x1="528.3" y1="260.8" x2="544.3" y2="260.8" stroke="#9a9595" stroke-width="0.7"/>
<line x1="528.3" y1="263.2" x2="544.3" y2="263.2" stroke="#9a9595" stroke-width="0.7"/>
<rect x="526.8" y="277.9" width="18.6" height="8.8" rx="1.2" fill="#4a4646" stroke="#2a2727" stroke-width="1.0"/>
<line x1="528.3" y1="279.9" x2="544.3" y2="279.9" stroke="#9a9595" stroke-width="0.7"/>
<line x1="528.3" y1="282.3" x2="544.3" y2="282.3" stroke="#9a9595" stroke-width="0.7"/>
<line x1="528.3" y1="284.7" x2="544.3" y2="284.7" stroke="#9a9595" stroke-width="0.7"/>
<rect x="526.8" y="297.9" width="18.6" height="8.8" rx="1.2" fill="#4a4646" stroke="#2a2727" stroke-width="1.0"/>
<line x1="528.3" y1="299.9" x2="544.3" y2="299.9" stroke="#9a9595" stroke-width="0.7"/>
<line x1="528.3" y1="302.3" x2="544.3" y2="302.3" stroke="#9a9595" stroke-width="0.7"/>
<line x1="528.3" y1="304.7" x2="544.3" y2="304.7" stroke="#9a9595" stroke-width="0.7"/>
<rect x="535.0" y="311.0" width="10.0" height="4.7" rx="1" fill="#e3dfde" stroke="#353131" stroke-width="1.2"/>
<rect x="524.2" y="285.5" width="1.6" height="25.0" rx="0" fill="#555" stroke="none" stroke-width="0"/>
<rect x="556.5" y="228.0" width="23.0" height="87.5" rx="0" fill="#e3dfde" stroke="#353131" stroke-width="1.2"/>
<rect x="561.7" y="240.3" width="16.3" height="20.7" rx="0" fill="#e3dfde" stroke="#353131" stroke-width="1.2"/>
<path d="M566.0999999999999,240.3 L566.0999999999999,253.6 L574.3,253.6 L574.3,240.3" fill="none" stroke="#353131" stroke-width="1.0"/>
<line x1="561.7" y1="250.5" x2="566.1" y2="250.5" stroke="#353131" stroke-width="0.9"/>
<rect x="579.0" y="230.0" width="3.4" height="81.0" rx="1" fill="#a9a4a4" stroke="#353131" stroke-width="1.1"/>
<path d="M582.5,257.8 L601.8,257.8 A13,13 0 0 1 601.8,283.8 L582.5,283.8 Q584.5,270.5 582.5,257.8 Z" fill="#e3dfde" stroke="#353131" stroke-width="1.2"/>
<circle cx="601.8" cy="270.5" r="5" fill="none" stroke="#353131" stroke-width="1"/>
<rect x="628.7" y="249.5" width="9.6" height="33.3" rx="0" fill="#e3dfde" stroke="#353131" stroke-width="1.2"/>
<rect x="628.7" y="249.5" width="9.6" height="8.8" rx="0" fill="#fff" stroke="#353131" stroke-width="1.2"/>
<line x1="628.7" y1="265.0" x2="638.3" y2="265.0" stroke="#353131" stroke-width="0.8" stroke-dasharray="2 1"/>
<line x1="628.7" y1="275.0" x2="638.3" y2="275.0" stroke="#353131" stroke-width="0.8" stroke-dasharray="2 1"/>
<path d="M564.4,336.6 L564.4,314.3 Q564.4,312.8 565.9,312.8 L575.6,312.8 Q577.1,312.8 577.1,314.3 L577.1,336.6 Z" fill="#e3dfde" stroke="#353131" stroke-width="1.2"/>
<rect x="565.0" y="313.4" width="11.5" height="2.6" rx="0" fill="#777" stroke="none" stroke-width="0"/>
<rect x="563.9" y="336.6" width="13.7" height="6.1" rx="1" fill="#e3dfde" stroke="#353131" stroke-width="1.2"/>
<line x1="563.9" y1="339.6" x2="577.6" y2="339.6" stroke="#353131" stroke-width="0.8"/>
<rect x="566.9" y="342.7" width="7.5" height="21.7" rx="0" fill="#e3dfde" stroke="#353131" stroke-width="1.2"/>
<path d="M566.9,364.4 L574.4,364.4 L574.4,372.6 Q574.4,376.6 570.65,376.6 Q566.9,376.6 566.9,372.6 Z" fill="#e9e6e6" stroke="#353131" stroke-width="1.0"/>
<rect x="566.9" y="364.4" width="7.5" height="5.8" rx="0" fill="#2b2828" stroke="none" stroke-width="0"/>
<line x1="570.8" y1="179.4" x2="570.8" y2="388.3" stroke="#353131" stroke-width="1.6" stroke-dasharray="26 1.6 2.2 1.8"/>
<line x1="519.4" y1="270.5" x2="644.0" y2="270.5" stroke="#4a4646" stroke-width="1.3" stroke-dasharray="26 1.6 2.2 1.8"/>
<line x1="523.3" y1="179.4" x2="602.4" y2="179.4" stroke="#353333" stroke-width="0.95"/>
<line x1="523.3" y1="179.4" x2="523.3" y2="225.0" stroke="#353333" stroke-width="0.95"/>
<line x1="602.4" y1="179.4" x2="602.4" y2="286.0" stroke="#353333" stroke-width="0.95"/>
<line x1="582.5" y1="228.5" x2="653.4" y2="228.5" stroke="#353333" stroke-width="0.95"/>
<line x1="582.5" y1="312.7" x2="653.4" y2="312.7" stroke="#353333" stroke-width="0.95"/>
<line x1="653.4" y1="228.5" x2="653.4" y2="312.7" stroke="#353333" stroke-width="0.95"/>
<line x1="594.5" y1="261.5" x2="620.5" y2="295.7" stroke="#353333" stroke-width="0.95"/>
<line x1="619.0" y1="249.0" x2="648.0" y2="249.0" stroke="#353333" stroke-width="0.95"/>
<line x1="628.7" y1="249.0" x2="628.7" y2="283.0" stroke="#353333" stroke-width="0.95"/>
<line x1="638.3" y1="249.0" x2="638.3" y2="283.0" stroke="#353333" stroke-width="0.95"/>
<line x1="541.0" y1="349.5" x2="583.0" y2="349.5" stroke="#353333" stroke-width="0.95"/>
<line x1="582.4" y1="316.0" x2="582.4" y2="388.3" stroke="#353333" stroke-width="0.95"/>
<line x1="561.6" y1="388.2" x2="603.2" y2="388.2" stroke="#353333" stroke-width="0.95"/>
<text x="91.0" y="176.6" font-size="11.6" fill="#4a4a52" font-weight="normal" text-anchor="start" textLength="22.0" lengthAdjust="spacingAndGlyphs">ø0.44</text>
<text x="0" y="0" transform="translate(46.3,238.6) rotate(-90)" font-size="11.6" fill="#4a4a52" textLength="16.6" lengthAdjust="spacingAndGlyphs">1.97</text>
<text x="0" y="0" transform="translate(32.9,320.0) rotate(-90)" font-size="11.6" fill="#4a4a52" textLength="16.6" lengthAdjust="spacingAndGlyphs">2.00</text>
<text x="0" y="0" transform="translate(48.0,313.4) rotate(-90)" font-size="11.6" fill="#4a4a52" textLength="15.6" lengthAdjust="spacingAndGlyphs">1.74</text>
<text x="0" y="0" transform="translate(63.6,335.7) rotate(-90)" font-size="11.6" fill="#4a4a52" textLength="17.8" lengthAdjust="spacingAndGlyphs">0.58</text>
<text x="0" y="0" transform="translate(63.2,362.2) rotate(-90)" font-size="11.6" fill="#4a4a52" textLength="17.2" lengthAdjust="spacingAndGlyphs">0.79</text>
<text x="0" y="0" transform="translate(32.2,368.8) rotate(-90)" font-size="11.6" fill="#4a4a52" textLength="17.2" lengthAdjust="spacingAndGlyphs">0.52</text>
<text x="0" y="0" transform="translate(73.8,370.4) rotate(-90)" font-size="11.6" fill="#4a4a52" textLength="12.4" lengthAdjust="spacingAndGlyphs">1/4</text>
<text x="116.8" y="326.8" font-size="11.6" fill="#4a4a52" font-weight="normal" text-anchor="start" textLength="27.4" lengthAdjust="spacingAndGlyphs">ø0.375</text>
<text x="146.3" y="321.6" font-size="4.6" fill="#4a4a52" font-weight="normal" text-anchor="start">0</text>
<text x="145.5" y="326.9" font-size="4.6" fill="#4a4a52" font-weight="normal" text-anchor="start" textLength="15.8" lengthAdjust="spacingAndGlyphs">-0.0012</text>
<text x="0" y="0" transform="translate(170.7,278.3) rotate(-90)" font-size="11.6" fill="#4a4a52" textLength="21.8" lengthAdjust="spacingAndGlyphs">ø2.32</text>
<text x="201.0" y="178.0" font-size="11.6" fill="#4a4a52" font-weight="normal" text-anchor="start" textLength="17.0" lengthAdjust="spacingAndGlyphs">1.20</text>
<text x="243.0" y="178.0" font-size="11.6" fill="#4a4a52" font-weight="normal" text-anchor="start" textLength="11.8" lengthAdjust="spacingAndGlyphs">3/4</text>
<text x="287.4" y="248.2" font-size="11.6" fill="#4a4a52" font-weight="normal" text-anchor="start" textLength="11.9" lengthAdjust="spacingAndGlyphs">1/4</text>
<text x="0" y="0" transform="translate(313.7,277.9) rotate(-90)" font-size="11.6" fill="#4a4a52" textLength="23.0" lengthAdjust="spacingAndGlyphs">ø2.13</text>
<text x="0" y="0" transform="translate(273.5,282) rotate(50)" font-size="11.2" fill="#4a4a52" textLength="19" lengthAdjust="spacingAndGlyphs">ø1/4</text>
<text x="202.0" y="348.8" font-size="11.6" fill="#4a4a52" font-weight="normal" text-anchor="start" textLength="22.9" lengthAdjust="spacingAndGlyphs">ø0.19</text>
<text x="247.6" y="381.9" font-size="11.6" fill="#4a4a52" font-weight="normal" text-anchor="start" textLength="16.6" lengthAdjust="spacingAndGlyphs">0.30</text>
<text x="115.3" y="377.6" font-size="12.3" fill="#4a4a52" font-weight="normal" text-anchor="start" textLength="82.9" lengthAdjust="spacingAndGlyphs">Ball contact (ø0.12)</text>
<text x="113.3" y="393.5" font-size="11.4" fill="#222" font-weight="bold" text-anchor="start" textLength="48.2" lengthAdjust="spacingAndGlyphs">21BZB005</text>
<text x="113.3" y="403.0" font-size="11.8" fill="#4a4a52" font-weight="normal" text-anchor="start" textLength="95.5" lengthAdjust="spacingAndGlyphs">(thread: No. 4-48UNF)</text>
<text x="429.6" y="177.4" font-size="11.6" fill="#4a4a52" font-weight="normal" text-anchor="start" textLength="22.7" lengthAdjust="spacingAndGlyphs">ø11.2</text>
<text x="0" y="0" transform="translate(385.7,239.0) rotate(-90)" font-size="11.6" fill="#4a4a52" textLength="14.5" lengthAdjust="spacingAndGlyphs">50.1</text>
<text x="0" y="0" transform="translate(372.8,321.2) rotate(-90)" font-size="11.6" fill="#4a4a52" textLength="16.7" lengthAdjust="spacingAndGlyphs">54.4</text>
<text x="0" y="0" transform="translate(386.8,314.5) rotate(-90)" font-size="11.6" fill="#4a4a52" textLength="16.7" lengthAdjust="spacingAndGlyphs">46.5</text>
<text x="0" y="0" transform="translate(402.4,334.6) rotate(-90)" font-size="11.6" fill="#4a4a52" textLength="10.1" lengthAdjust="spacingAndGlyphs">17</text>
<text x="0" y="0" transform="translate(371.2,372.3) rotate(-90)" font-size="11.6" fill="#4a4a52" textLength="15.6" lengthAdjust="spacingAndGlyphs">13.3</text>
<text x="0" y="0" transform="translate(401.3,366.7) rotate(-90)" font-size="11.6" fill="#4a4a52" textLength="16.2" lengthAdjust="spacingAndGlyphs">21.2</text>
<text x="0" y="0" transform="translate(412.4,375.6) rotate(-90)" font-size="11.6" fill="#4a4a52" textLength="11.1" lengthAdjust="spacingAndGlyphs">7.3</text>
<text x="456.3" y="326.8" font-size="11.6" fill="#4a4a52" font-weight="normal" text-anchor="start" textLength="8.9" lengthAdjust="spacingAndGlyphs">ø8</text>
<text x="467.8" y="321.3" font-size="4.6" fill="#4a4a52" font-weight="normal" text-anchor="start">0</text>
<text x="467.0" y="326.6" font-size="4.6" fill="#4a4a52" font-weight="normal" text-anchor="start" textLength="13.0" lengthAdjust="spacingAndGlyphs">-0.009</text>
<text x="453.5" y="382.9" font-size="12.3" fill="#4a4a52" font-weight="normal" text-anchor="start" textLength="69.6" lengthAdjust="spacingAndGlyphs">Ball contact (ø3)</text>
<text x="453.5" y="398.8" font-size="11.2" fill="#222" font-weight="bold" text-anchor="start" textLength="35.7" lengthAdjust="spacingAndGlyphs">901312</text>
<text x="453.5" y="408.4" font-size="11.8" fill="#4a4a52" font-weight="normal" text-anchor="start" textLength="88.3" lengthAdjust="spacingAndGlyphs">(thread: M2.5×0.45)</text>
<path d="M110.4,576.7 L110.4,567.8000000000001 Q110.4,564.8000000000001 113.9,564.8000000000001 L136.9,564.8000000000001 Q140.4,564.8000000000001 140.4,567.8000000000001 L140.4,576.7 Z" fill="#4a4646" stroke="#353131" stroke-width="1.2"/>
<line x1="112.3" y1="567.3" x2="112.3" y2="575.5" stroke="#bdb8b8" stroke-width="1.2"/>
<line x1="116.0" y1="567.3" x2="116.0" y2="575.5" stroke="#bdb8b8" stroke-width="1.2"/>
<line x1="119.8" y1="567.3" x2="119.8" y2="575.5" stroke="#bdb8b8" stroke-width="1.2"/>
<line x1="123.5" y1="567.3" x2="123.5" y2="575.5" stroke="#bdb8b8" stroke-width="1.2"/>
<line x1="127.3" y1="567.3" x2="127.3" y2="575.5" stroke="#bdb8b8" stroke-width="1.2"/>
<line x1="131.0" y1="567.3" x2="131.0" y2="575.5" stroke="#bdb8b8" stroke-width="1.2"/>
<line x1="134.8" y1="567.3" x2="134.8" y2="575.5" stroke="#bdb8b8" stroke-width="1.2"/>
<line x1="138.5" y1="567.3" x2="138.5" y2="575.5" stroke="#bdb8b8" stroke-width="1.2"/>
<rect x="110.4" y="576.7" width="30.0" height="4.4" rx="0" fill="#e3dfde" stroke="#353131" stroke-width="1.2"/>
<rect x="110.4" y="581.1" width="30.0" height="23.6" rx="0" fill="#e3dfde" stroke="#353131" stroke-width="1.2"/>
<rect x="108.9" y="604.7" width="33.1" height="4.8" rx="1" fill="#e3dfde" stroke="#353131" stroke-width="1.2"/>
<path d="M97.9,684.6 L101.0,727.6 Q101.5,731.3000000000001 105.5,731.3000000000001 L145.0,731.3000000000001 Q149.0,731.3000000000001 149.5,727.6 L153.5,684.6 Z" fill="#e3dfde" stroke="#353131" stroke-width="1.1"/>
<path d="M106.8,694.6 L108.5,727.6 Q109.0,730.1 111.5,730.1 L139.0,730.1 Q141.5,730.1 142.0,727.6 L143.5,694.6" fill="none" stroke="#353131" stroke-width="0.9"/>
<circle cx="125.5" cy="654.6" r="44.5" fill="#e3dfde" stroke="#353131" stroke-width="3.8"/>
<path d="M88.3,674.4 A42.099999999999994,42.099999999999994 0 1 1 162.7,674.4 L166.6,674.9 L125.5,671.2 L84.4,674.9 Z" fill="#e3dfde" stroke="#353131" stroke-width="1.4"/>
<path d="M88.7,654.6 A36.8,36.8 0 0 1 162.3,654.6 L161.3,666.5 Q160.9,668.8 158.5,668.7 L125.5,666.2 L92.5,668.7 Q90.1,668.8 89.7,666.5 Z" fill="#e3dfde" stroke="#353131" stroke-width="1.3"/>
<path d="M100.1,679.2 C108.5,682.6 118.5,687.0 125.5,687.0 C132.5,687.0 142.5,682.6 150.9,679.2 L149.5,683.4 C143.5,689.6 133.5,692.2 125.5,692.2 C117.5,692.2 107.5,689.6 101.5,683.4 Z" fill="#e3dfde" stroke="#353131" stroke-width="1.1"/>
<line x1="137.1" y1="685.1" x2="138.6" y2="690.2" stroke="#353131" stroke-width="0.9"/>
<line x1="135.3" y1="685.1" x2="136.8" y2="690.2" stroke="#353131" stroke-width="0.9"/>
<line x1="113.9" y1="685.1" x2="112.4" y2="690.2" stroke="#353131" stroke-width="0.9"/>
<line x1="115.7" y1="685.1" x2="114.2" y2="690.2" stroke="#353131" stroke-width="0.9"/>
<rect x="117.3" y="731.3" width="15.5" height="28.7" rx="0" fill="#e3dfde" stroke="#353131" stroke-width="1.2"/>
<rect x="118.1" y="731.4" width="13.9" height="3.5" rx="0" fill="#666" stroke="none" stroke-width="0"/>
<path d="M121.2,760.0 L129.5,760.0 L129.5,781.9000000000001 Q129.5,783.9000000000001 127.5,783.9000000000001 L123.2,783.9000000000001 Q121.2,783.9000000000001 121.2,781.9000000000001 Z" fill="#e3dfde" stroke="#353131" stroke-width="1.1"/>
<rect x="121.2" y="775.5" width="8.3" height="4.9" rx="0" fill="#2b2828" stroke="none" stroke-width="0"/>
<line x1="121.2" y1="783.9" x2="121.2" y2="804.0" stroke="#353131" stroke-width="1.0" stroke-dasharray="2.6 1.6"/>
<line x1="129.5" y1="783.9" x2="129.5" y2="804.0" stroke="#353131" stroke-width="1.0" stroke-dasharray="2.6 1.6"/>
<path d="M121.2,804.0 L129.5,804.0 L129.5,822.3 Q129.5,825.3 125.5,825.3 Q121.2,825.3 121.2,822.3 Z" fill="#e3dfde" stroke="#353131" stroke-width="1.1"/>
<rect x="121.2" y="816.9" width="8.3" height="4.9" rx="0" fill="#2b2828" stroke="none" stroke-width="0"/>
<line x1="125.5" y1="559.3" x2="125.5" y2="836.8" stroke="#353131" stroke-width="1.2" stroke-dasharray="26 1.6 2.2 1.8"/>
<line x1="53.0" y1="654.6" x2="178.0" y2="654.6" stroke="#4a4646" stroke-width="1.0" stroke-dasharray="26 1.6 2.2 1.8"/>
<line x1="110.6" y1="551.4" x2="140.3" y2="551.4" stroke="#353333" stroke-width="0.95"/>
<line x1="110.6" y1="551.4" x2="110.6" y2="564.5" stroke="#353333" stroke-width="0.95"/>
<line x1="140.3" y1="551.4" x2="140.3" y2="564.5" stroke="#353333" stroke-width="0.95"/>
<line x1="52.7" y1="564.5" x2="110.6" y2="564.5" stroke="#353333" stroke-width="0.95"/>
<line x1="52.7" y1="564.5" x2="52.7" y2="826.5" stroke="#353333" stroke-width="0.95"/>
<line x1="67.4" y1="654.6" x2="67.4" y2="760.2" stroke="#353333" stroke-width="0.95"/>
<line x1="67.4" y1="760.2" x2="117.5" y2="760.2" stroke="#353333" stroke-width="0.95"/>
<line x1="82.0" y1="733.5" x2="118.0" y2="733.5" stroke="#353333" stroke-width="0.95"/>
<line x1="82.0" y1="733.5" x2="82.0" y2="826.5" stroke="#353333" stroke-width="0.95"/>
<line x1="52.7" y1="786.0" x2="121.0" y2="786.0" stroke="#353333" stroke-width="0.95"/>
<line x1="52.7" y1="826.5" x2="121.0" y2="826.5" stroke="#353333" stroke-width="0.95"/>
<line x1="110.1" y1="806.8" x2="110.1" y2="836.4" stroke="#353333" stroke-width="0.95"/>
<line x1="110.1" y1="816.6" x2="121.0" y2="816.6" stroke="#353333" stroke-width="0.95"/>
<line x1="108.7" y1="750.4" x2="181.2" y2="750.4" stroke="#353333" stroke-width="0.95"/>
<line x1="196.4" y1="608.0" x2="196.4" y2="700.9" stroke="#353333" stroke-width="0.95"/>
<line x1="196.4" y1="608.0" x2="214.0" y2="608.0" stroke="#353333" stroke-width="0.95"/>
<line x1="196.4" y1="700.9" x2="214.0" y2="700.9" stroke="#353333" stroke-width="0.95"/>
<line x1="130.9" y1="820.0" x2="136.8" y2="798.8" stroke="#353131" stroke-width="1.0"/>
<line x1="136.8" y1="798.8" x2="228.7" y2="798.8" stroke="#353131" stroke-width="1.0"/>
<path d="M248.8,576.8000000000001 L248.8,567.4 Q248.8,564.4 252.3,564.4 L274.6,564.4 Q278.1,564.4 278.1,567.4 L278.1,576.8000000000001 Z" fill="#4a4646" stroke="#353131" stroke-width="1.2"/>
<line x1="250.6" y1="566.9" x2="250.6" y2="575.6" stroke="#bdb8b8" stroke-width="1.2"/>
<line x1="254.3" y1="566.9" x2="254.3" y2="575.6" stroke="#bdb8b8" stroke-width="1.2"/>
<line x1="258.0" y1="566.9" x2="258.0" y2="575.6" stroke="#bdb8b8" stroke-width="1.2"/>
<line x1="261.6" y1="566.9" x2="261.6" y2="575.6" stroke="#bdb8b8" stroke-width="1.2"/>
<line x1="265.3" y1="566.9" x2="265.3" y2="575.6" stroke="#bdb8b8" stroke-width="1.2"/>
<line x1="268.9" y1="566.9" x2="268.9" y2="575.6" stroke="#bdb8b8" stroke-width="1.2"/>
<line x1="272.6" y1="566.9" x2="272.6" y2="575.6" stroke="#bdb8b8" stroke-width="1.2"/>
<line x1="276.3" y1="566.9" x2="276.3" y2="575.6" stroke="#bdb8b8" stroke-width="1.2"/>
<rect x="248.8" y="576.8" width="29.3" height="4.5" rx="0" fill="#e3dfde" stroke="#353131" stroke-width="1.2"/>
<rect x="249.1" y="581.3" width="28.7" height="23.0" rx="0" fill="#e3dfde" stroke="#353131" stroke-width="1.2"/>
<path d="M246.60000000000002,606.1 Q246.60000000000002,604.4 248.3,604.4 L280.40000000000003,604.4 L280.40000000000003,733.4 L248.60000000000002,733.4 L248.60000000000002,697.0 L246.60000000000002,697.0 Z" fill="#e3dfde" stroke="#353131" stroke-width="1.2"/>
<path d="M246.60000000000002,612.6 Q263.3,616.1 280.40000000000003,612.2" fill="none" stroke="#353131" stroke-width="1.0"/>
<line x1="246.6" y1="604.4" x2="280.4" y2="604.4" stroke="#353131" stroke-width="1.5"/>
<path d="M247.10000000000002,696.8000000000001 Q247.8,694.6 250.8,693.6 L263.3,689.3000000000001 L280.40000000000003,689.3000000000001" fill="none" stroke="#353131" stroke-width="1.1"/>
<line x1="250.6" y1="702.4" x2="280.4" y2="702.4" stroke="#353131" stroke-width="1.0"/>
<line x1="250.6" y1="694.1" x2="250.6" y2="731.4" stroke="#353131" stroke-width="0.8"/>
<rect x="248.6" y="731.4" width="31.8" height="2.2" rx="0" fill="#bcb7b6" stroke="none" stroke-width="0"/>
<rect x="214.0" y="608.0" width="31.2" height="92.5" rx="1.5" fill="#e3dfde" stroke="#353131" stroke-width="1.2"/>
<line x1="237.2" y1="608.0" x2="237.2" y2="700.5" stroke="#353131" stroke-width="0.8"/>
<rect x="214.9" y="621.3" width="18.7" height="9.2" rx="1.5" fill="#4a4646" stroke="#2a2727" stroke-width="1.0"/>
<line x1="216.3" y1="623.4" x2="232.8" y2="623.4" stroke="#9a9595" stroke-width="0.7"/>
<line x1="216.3" y1="625.9" x2="232.8" y2="625.9" stroke="#9a9595" stroke-width="0.7"/>
<line x1="216.3" y1="628.4" x2="232.8" y2="628.4" stroke="#9a9595" stroke-width="0.7"/>
<rect x="214.9" y="640.0" width="18.7" height="9.2" rx="1.5" fill="#4a4646" stroke="#2a2727" stroke-width="1.0"/>
<line x1="216.3" y1="642.1" x2="232.8" y2="642.1" stroke="#9a9595" stroke-width="0.7"/>
<line x1="216.3" y1="644.6" x2="232.8" y2="644.6" stroke="#9a9595" stroke-width="0.7"/>
<line x1="216.3" y1="647.1" x2="232.8" y2="647.1" stroke="#9a9595" stroke-width="0.7"/>
<rect x="214.9" y="661.4" width="18.7" height="9.2" rx="1.5" fill="#4a4646" stroke="#2a2727" stroke-width="1.0"/>
<line x1="216.3" y1="663.5" x2="232.8" y2="663.5" stroke="#9a9595" stroke-width="0.7"/>
<line x1="216.3" y1="666.0" x2="232.8" y2="666.0" stroke="#9a9595" stroke-width="0.7"/>
<line x1="216.3" y1="668.5" x2="232.8" y2="668.5" stroke="#9a9595" stroke-width="0.7"/>
<rect x="214.9" y="681.8" width="18.7" height="9.2" rx="1.5" fill="#4a4646" stroke="#2a2727" stroke-width="1.0"/>
<line x1="216.3" y1="683.9" x2="232.8" y2="683.9" stroke="#9a9595" stroke-width="0.7"/>
<line x1="216.3" y1="686.4" x2="232.8" y2="686.4" stroke="#9a9595" stroke-width="0.7"/>
<line x1="216.3" y1="688.9" x2="232.8" y2="688.9" stroke="#9a9595" stroke-width="0.7"/>
<rect x="223.0" y="695.5" width="11.5" height="5.0" rx="1" fill="#e3dfde" stroke="#353131" stroke-width="1.2"/>
<rect x="212.8" y="672.6" width="2.0" height="22.0" rx="0" fill="#555" stroke="none" stroke-width="0"/>
<rect x="255.4" y="733.3" width="16.2" height="27.3" rx="0" fill="#e3dfde" stroke="#353131" stroke-width="1.2"/>
<rect x="255.8" y="733.4" width="15.4" height="2.6" rx="0" fill="#555" stroke="none" stroke-width="0"/>
<rect x="259.4" y="760.6" width="8.7" height="55.7" rx="0" fill="#e3dfde" stroke="#353131" stroke-width="1.2"/>
<path d="M259.40000000000003,816.3 L268.1,816.3 L268.1,821.3 Q268.1,826.3 263.8,826.3 Q259.40000000000003,826.3 259.40000000000003,821.3 Z" fill="#e9e6e6" stroke="#353131" stroke-width="0.9"/>
<rect x="259.4" y="815.3" width="8.7" height="5.0" rx="0" fill="#2b2828" stroke="none" stroke-width="0"/>
<line x1="263.3" y1="551.4" x2="263.3" y2="837.7" stroke="#353131" stroke-width="1.1" stroke-dasharray="26 1.6 2.2 1.8"/>
<line x1="207.8" y1="654.2" x2="288.0" y2="654.2" stroke="#4a4646" stroke-width="1.0" stroke-dasharray="26 1.6 2.2 1.8"/>
<line x1="211.4" y1="551.4" x2="280.4" y2="551.4" stroke="#353333" stroke-width="0.95"/>
<line x1="211.4" y1="551.4" x2="211.4" y2="608.0" stroke="#353333" stroke-width="0.95"/>
<line x1="280.4" y1="551.4" x2="280.4" y2="604.4" stroke="#353333" stroke-width="0.95"/>
<line x1="233.8" y1="795.4" x2="276.8" y2="795.4" stroke="#353333" stroke-width="0.95"/>
<path d="M455.4,576.7 L455.4,567.8000000000001 Q455.4,564.8000000000001 458.9,564.8000000000001 L481.9,564.8000000000001 Q485.4,564.8000000000001 485.4,567.8000000000001 L485.4,576.7 Z" fill="#4a4646" stroke="#353131" stroke-width="1.2"/>
<line x1="457.3" y1="567.3" x2="457.3" y2="575.5" stroke="#bdb8b8" stroke-width="1.2"/>
<line x1="461.0" y1="567.3" x2="461.0" y2="575.5" stroke="#bdb8b8" stroke-width="1.2"/>
<line x1="464.8" y1="567.3" x2="464.8" y2="575.5" stroke="#bdb8b8" stroke-width="1.2"/>
<line x1="468.5" y1="567.3" x2="468.5" y2="575.5" stroke="#bdb8b8" stroke-width="1.2"/>
<line x1="472.3" y1="567.3" x2="472.3" y2="575.5" stroke="#bdb8b8" stroke-width="1.2"/>
<line x1="476.0" y1="567.3" x2="476.0" y2="575.5" stroke="#bdb8b8" stroke-width="1.2"/>
<line x1="479.8" y1="567.3" x2="479.8" y2="575.5" stroke="#bdb8b8" stroke-width="1.2"/>
<line x1="483.5" y1="567.3" x2="483.5" y2="575.5" stroke="#bdb8b8" stroke-width="1.2"/>
<rect x="455.4" y="576.7" width="30.0" height="4.4" rx="0" fill="#e3dfde" stroke="#353131" stroke-width="1.2"/>
<rect x="455.4" y="581.1" width="30.0" height="23.6" rx="0" fill="#e3dfde" stroke="#353131" stroke-width="1.2"/>
<rect x="453.9" y="604.7" width="33.1" height="4.8" rx="1" fill="#e3dfde" stroke="#353131" stroke-width="1.2"/>
<path d="M442.9,684.6 L446.0,727.6 Q446.5,731.3000000000001 450.5,731.3000000000001 L490.0,731.3000000000001 Q494.0,731.3000000000001 494.5,727.6 L498.5,684.6 Z" fill="#e3dfde" stroke="#353131" stroke-width="1.1"/>
<path d="M451.8,694.6 L453.5,727.6 Q454.0,730.1 456.5,730.1 L484.0,730.1 Q486.5,730.1 487.0,727.6 L488.5,694.6" fill="none" stroke="#353131" stroke-width="0.9"/>
<circle cx="470.5" cy="654.6" r="44.5" fill="#e3dfde" stroke="#353131" stroke-width="3.8"/>
<path d="M433.3,674.4 A42.099999999999994,42.099999999999994 0 1 1 507.7,674.4 L511.6,674.9 L470.5,671.2 L429.4,674.9 Z" fill="#e3dfde" stroke="#353131" stroke-width="1.4"/>
<path d="M433.7,654.6 A36.8,36.8 0 0 1 507.3,654.6 L506.3,666.5 Q505.9,668.8 503.5,668.7 L470.5,666.2 L437.5,668.7 Q435.1,668.8 434.7,666.5 Z" fill="#e3dfde" stroke="#353131" stroke-width="1.3"/>
<path d="M445.1,679.2 C453.5,682.6 463.5,687.0 470.5,687.0 C477.5,687.0 487.5,682.6 495.9,679.2 L494.5,683.4 C488.5,689.6 478.5,692.2 470.5,692.2 C462.5,692.2 452.5,689.6 446.5,683.4 Z" fill="#e3dfde" stroke="#353131" stroke-width="1.1"/>
<line x1="482.1" y1="685.1" x2="483.6" y2="690.2" stroke="#353131" stroke-width="0.9"/>
<line x1="480.3" y1="685.1" x2="481.8" y2="690.2" stroke="#353131" stroke-width="0.9"/>
<line x1="458.9" y1="685.1" x2="457.4" y2="690.2" stroke="#353131" stroke-width="0.9"/>
<line x1="460.7" y1="685.1" x2="459.2" y2="690.2" stroke="#353131" stroke-width="0.9"/>
<rect x="464.4" y="731.3" width="12.6" height="32.3" rx="0" fill="#e3dfde" stroke="#353131" stroke-width="1.2"/>
<rect x="465.2" y="731.4" width="11.0" height="3.5" rx="0" fill="#666" stroke="none" stroke-width="0"/>
<line x1="464.4" y1="758.0" x2="477.0" y2="758.0" stroke="#353131" stroke-width="0.9"/>
<line x1="464.4" y1="760.8" x2="477.0" y2="760.8" stroke="#353131" stroke-width="0.9"/>
<path d="M466.2,763.6 L474.5,763.6 L474.5,784.9000000000001 Q474.5,786.9000000000001 472.5,786.9000000000001 L468.2,786.9000000000001 Q466.2,786.9000000000001 466.2,784.9000000000001 Z" fill="#e3dfde" stroke="#353131" stroke-width="1.1"/>
<rect x="466.2" y="776.7" width="8.3" height="4.9" rx="0" fill="#2b2828" stroke="none" stroke-width="0"/>
<line x1="466.2" y1="786.9" x2="466.2" y2="804.0" stroke="#353131" stroke-width="1.0" stroke-dasharray="2.6 1.6"/>
<line x1="474.5" y1="786.9" x2="474.5" y2="804.0" stroke="#353131" stroke-width="1.0" stroke-dasharray="2.6 1.6"/>
<path d="M466.2,804.0 L474.5,804.0 L474.5,824.6999999999999 Q474.5,827.6999999999999 470.5,827.6999999999999 Q466.2,827.6999999999999 466.2,824.6999999999999 Z" fill="#e3dfde" stroke="#353131" stroke-width="1.1"/>
<rect x="466.2" y="816.9" width="8.3" height="7.3" rx="0" fill="#2b2828" stroke="none" stroke-width="0"/>
<line x1="470.5" y1="559.3" x2="470.5" y2="836.8" stroke="#353131" stroke-width="1.2" stroke-dasharray="26 1.6 2.2 1.8"/>
<line x1="398.0" y1="654.6" x2="523.0" y2="654.6" stroke="#4a4646" stroke-width="1.0" stroke-dasharray="26 1.6 2.2 1.8"/>
<line x1="455.6" y1="551.4" x2="485.3" y2="551.4" stroke="#353333" stroke-width="0.95"/>
<line x1="455.6" y1="551.4" x2="455.6" y2="564.5" stroke="#353333" stroke-width="0.95"/>
<line x1="485.3" y1="551.4" x2="485.3" y2="564.5" stroke="#353333" stroke-width="0.95"/>
<line x1="397.7" y1="564.5" x2="455.6" y2="564.5" stroke="#353333" stroke-width="0.95"/>
<line x1="397.7" y1="564.5" x2="397.7" y2="828.3" stroke="#353333" stroke-width="0.95"/>
<line x1="412.4" y1="654.6" x2="412.4" y2="764.0" stroke="#353333" stroke-width="0.95"/>
<line x1="412.4" y1="764.0" x2="462.5" y2="764.0" stroke="#353333" stroke-width="0.95"/>
<line x1="427.0" y1="733.5" x2="463.0" y2="733.5" stroke="#353333" stroke-width="0.95"/>
<line x1="427.0" y1="733.5" x2="427.0" y2="828.3" stroke="#353333" stroke-width="0.95"/>
<line x1="397.7" y1="786.7" x2="466.0" y2="786.7" stroke="#353333" stroke-width="0.95"/>
<line x1="397.7" y1="828.3" x2="466.0" y2="828.3" stroke="#353333" stroke-width="0.95"/>
<line x1="455.1" y1="806.8" x2="455.1" y2="836.4" stroke="#353333" stroke-width="0.95"/>
<line x1="455.1" y1="816.6" x2="466.0" y2="816.6" stroke="#353333" stroke-width="0.95"/>
<line x1="453.7" y1="750.4" x2="512.8" y2="750.4" stroke="#353333" stroke-width="0.95"/>
<line x1="541.4" y1="608.0" x2="541.4" y2="700.9" stroke="#353333" stroke-width="0.95"/>
<line x1="541.4" y1="608.0" x2="559.0" y2="608.0" stroke="#353333" stroke-width="0.95"/>
<line x1="541.4" y1="700.9" x2="559.0" y2="700.9" stroke="#353333" stroke-width="0.95"/>
<line x1="475.9" y1="820.0" x2="481.8" y2="798.8" stroke="#353131" stroke-width="1.0"/>
<line x1="481.8" y1="798.8" x2="567.9" y2="798.8" stroke="#353131" stroke-width="1.0"/>
<path d="M593.8,576.8000000000001 L593.8,567.4 Q593.8,564.4 597.3,564.4 L619.5999999999999,564.4 Q623.0999999999999,564.4 623.0999999999999,567.4 L623.0999999999999,576.8000000000001 Z" fill="#4a4646" stroke="#353131" stroke-width="1.2"/>
<line x1="595.6" y1="566.9" x2="595.6" y2="575.6" stroke="#bdb8b8" stroke-width="1.2"/>
<line x1="599.3" y1="566.9" x2="599.3" y2="575.6" stroke="#bdb8b8" stroke-width="1.2"/>
<line x1="603.0" y1="566.9" x2="603.0" y2="575.6" stroke="#bdb8b8" stroke-width="1.2"/>
<line x1="606.6" y1="566.9" x2="606.6" y2="575.6" stroke="#bdb8b8" stroke-width="1.2"/>
<line x1="610.3" y1="566.9" x2="610.3" y2="575.6" stroke="#bdb8b8" stroke-width="1.2"/>
<line x1="613.9" y1="566.9" x2="613.9" y2="575.6" stroke="#bdb8b8" stroke-width="1.2"/>
<line x1="617.6" y1="566.9" x2="617.6" y2="575.6" stroke="#bdb8b8" stroke-width="1.2"/>
<line x1="621.3" y1="566.9" x2="621.3" y2="575.6" stroke="#bdb8b8" stroke-width="1.2"/>
<rect x="593.8" y="576.8" width="29.3" height="4.5" rx="0" fill="#e3dfde" stroke="#353131" stroke-width="1.2"/>
<rect x="594.1" y="581.3" width="28.7" height="23.0" rx="0" fill="#e3dfde" stroke="#353131" stroke-width="1.2"/>
<path d="M591.5999999999999,606.1 Q591.5999999999999,604.4 593.3,604.4 L625.4,604.4 L625.4,733.4 L593.5999999999999,733.4 L593.5999999999999,697.0 L591.5999999999999,697.0 Z" fill="#e3dfde" stroke="#353131" stroke-width="1.2"/>
<path d="M591.5999999999999,612.6 Q608.3,616.1 625.4,612.2" fill="none" stroke="#353131" stroke-width="1.0"/>
<line x1="591.6" y1="604.4" x2="625.4" y2="604.4" stroke="#353131" stroke-width="1.5"/>
<path d="M592.0999999999999,696.8000000000001 Q592.8,694.6 595.8,693.6 L608.3,689.3000000000001 L625.4,689.3000000000001" fill="none" stroke="#353131" stroke-width="1.1"/>
<line x1="595.6" y1="702.4" x2="625.4" y2="702.4" stroke="#353131" stroke-width="1.0"/>
<line x1="595.6" y1="694.1" x2="595.6" y2="731.4" stroke="#353131" stroke-width="0.8"/>
<rect x="593.6" y="731.4" width="31.8" height="2.2" rx="0" fill="#bcb7b6" stroke="none" stroke-width="0"/>
<rect x="559.0" y="608.0" width="31.2" height="92.5" rx="1.5" fill="#e3dfde" stroke="#353131" stroke-width="1.2"/>
<line x1="582.2" y1="608.0" x2="582.2" y2="700.5" stroke="#353131" stroke-width="0.8"/>
<rect x="559.9" y="621.3" width="18.7" height="9.2" rx="1.5" fill="#4a4646" stroke="#2a2727" stroke-width="1.0"/>
<line x1="561.3" y1="623.4" x2="577.8" y2="623.4" stroke="#9a9595" stroke-width="0.7"/>
<line x1="561.3" y1="625.9" x2="577.8" y2="625.9" stroke="#9a9595" stroke-width="0.7"/>
<line x1="561.3" y1="628.4" x2="577.8" y2="628.4" stroke="#9a9595" stroke-width="0.7"/>
<rect x="559.9" y="640.0" width="18.7" height="9.2" rx="1.5" fill="#4a4646" stroke="#2a2727" stroke-width="1.0"/>
<line x1="561.3" y1="642.1" x2="577.8" y2="642.1" stroke="#9a9595" stroke-width="0.7"/>
<line x1="561.3" y1="644.6" x2="577.8" y2="644.6" stroke="#9a9595" stroke-width="0.7"/>
<line x1="561.3" y1="647.1" x2="577.8" y2="647.1" stroke="#9a9595" stroke-width="0.7"/>
<rect x="559.9" y="661.4" width="18.7" height="9.2" rx="1.5" fill="#4a4646" stroke="#2a2727" stroke-width="1.0"/>
<line x1="561.3" y1="663.5" x2="577.8" y2="663.5" stroke="#9a9595" stroke-width="0.7"/>
<line x1="561.3" y1="666.0" x2="577.8" y2="666.0" stroke="#9a9595" stroke-width="0.7"/>
<line x1="561.3" y1="668.5" x2="577.8" y2="668.5" stroke="#9a9595" stroke-width="0.7"/>
<rect x="559.9" y="681.8" width="18.7" height="9.2" rx="1.5" fill="#4a4646" stroke="#2a2727" stroke-width="1.0"/>
<line x1="561.3" y1="683.9" x2="577.8" y2="683.9" stroke="#9a9595" stroke-width="0.7"/>
<line x1="561.3" y1="686.4" x2="577.8" y2="686.4" stroke="#9a9595" stroke-width="0.7"/>
<line x1="561.3" y1="688.9" x2="577.8" y2="688.9" stroke="#9a9595" stroke-width="0.7"/>
<rect x="568.0" y="695.5" width="11.5" height="5.0" rx="1" fill="#e3dfde" stroke="#353131" stroke-width="1.2"/>
<rect x="557.8" y="672.6" width="2.0" height="22.0" rx="0" fill="#555" stroke="none" stroke-width="0"/>
<rect x="602.0" y="733.3" width="13.6" height="30.5" rx="0" fill="#e3dfde" stroke="#353131" stroke-width="1.2"/>
<rect x="602.4" y="733.4" width="12.8" height="2.6" rx="0" fill="#555" stroke="none" stroke-width="0"/>
<rect x="600.8" y="758.7" width="16.0" height="5.1" rx="1.2" fill="#e3dfde" stroke="#353131" stroke-width="1.2"/>
<line x1="600.8" y1="761.2" x2="616.8" y2="761.2" stroke="#353131" stroke-width="0.8"/>
<rect x="604.4" y="763.8" width="8.7" height="54.0" rx="0" fill="#e3dfde" stroke="#353131" stroke-width="1.2"/>
<path d="M604.4,817.8199999999999 L613.0999999999999,817.8199999999999 L613.0999999999999,822.8199999999999 Q613.0999999999999,827.8199999999999 608.8,827.8199999999999 Q604.4,827.8199999999999 604.4,822.8199999999999 Z" fill="#e9e6e6" stroke="#353131" stroke-width="0.9"/>
<rect x="604.4" y="816.8" width="8.7" height="5.0" rx="0" fill="#2b2828" stroke="none" stroke-width="0"/>
<line x1="608.3" y1="551.4" x2="608.3" y2="837.7" stroke="#353131" stroke-width="1.1" stroke-dasharray="26 1.6 2.2 1.8"/>
<line x1="552.8" y1="654.2" x2="633.0" y2="654.2" stroke="#4a4646" stroke-width="1.0" stroke-dasharray="26 1.6 2.2 1.8"/>
<line x1="556.4" y1="551.4" x2="625.4" y2="551.4" stroke="#353333" stroke-width="0.95"/>
<line x1="556.4" y1="551.4" x2="556.4" y2="608.0" stroke="#353333" stroke-width="0.95"/>
<line x1="625.4" y1="551.4" x2="625.4" y2="604.4" stroke="#353333" stroke-width="0.95"/>
<line x1="578.8" y1="795.4" x2="621.8" y2="795.4" stroke="#353333" stroke-width="0.95"/>
<text x="539.3" y="178.5" font-size="11.6" fill="#4a4a52" font-weight="normal" text-anchor="start" textLength="17.4" lengthAdjust="spacingAndGlyphs">30.5</text>
<text x="580.9" y="178.5" font-size="11.6" fill="#4a4a52" font-weight="normal" text-anchor="start" textLength="9.9" lengthAdjust="spacingAndGlyphs">20</text>
<text x="632.4" y="247.5" font-size="11.6" fill="#4a4a52" font-weight="normal" text-anchor="start" textLength="4.7" lengthAdjust="spacingAndGlyphs">5</text>
<text x="0" y="0" transform="translate(652.0,278.0) rotate(-90)" font-size="11.6" fill="#4a4a52" textLength="14.3" lengthAdjust="spacingAndGlyphs">ø54</text>
<text x="0" y="0" transform="translate(508.7,277.5) rotate(-90)" font-size="11.6" fill="#4a4a52" textLength="14.4" lengthAdjust="spacingAndGlyphs">ø59</text>
<text x="0" y="0" transform="translate(613.5,279) rotate(50)" font-size="11.2" fill="#4a4a52" textLength="20" lengthAdjust="spacingAndGlyphs">ø6.5</text>
<text x="543.9" y="349.0" font-size="11.6" fill="#4a4a52" font-weight="normal" text-anchor="start" textLength="17.2" lengthAdjust="spacingAndGlyphs">ø4.8</text>
<text x="588.6" y="385.8" font-size="11.6" fill="#4a4a52" font-weight="normal" text-anchor="start" textLength="11.7" lengthAdjust="spacingAndGlyphs">7.6</text>
<text x="114.9" y="550.0" font-size="11.6" fill="#4a4a52" font-weight="normal" text-anchor="start" textLength="22.1" lengthAdjust="spacingAndGlyphs">ø0.76</text>
<text x="0" y="0" transform="translate(52.3,617.9) rotate(-90)" font-size="11.6" fill="#4a4a52" textLength="18.3" lengthAdjust="spacingAndGlyphs">2.27</text>
<text x="0" y="0" transform="translate(52.9,727.9) rotate(-90)" font-size="11.6" fill="#4a4a52" textLength="16.7" lengthAdjust="spacingAndGlyphs">3.30</text>
<text x="0" y="0" transform="translate(66.3,712.3) rotate(-90)" font-size="11.6" fill="#4a4a52" textLength="15.5" lengthAdjust="spacingAndGlyphs">2.67</text>
<text x="0" y="0" transform="translate(81.9,755.7) rotate(-90)" font-size="11.6" fill="#4a4a52" textLength="17.7" lengthAdjust="spacingAndGlyphs">0.68</text>
<text x="138.4" y="748.0" font-size="11.6" fill="#4a4a52" font-weight="normal" text-anchor="start" textLength="27.4" lengthAdjust="spacingAndGlyphs">ø0.375</text>
<text x="166.8" y="742.6" font-size="4.6" fill="#4a4a52" font-weight="normal" text-anchor="start">0</text>
<text x="166.0" y="747.9" font-size="4.6" fill="#4a4a52" font-weight="normal" text-anchor="start" textLength="15.6" lengthAdjust="spacingAndGlyphs">-0.0012</text>
<text x="0" y="0" transform="translate(81.5,802.3) rotate(-90)" font-size="11.6" fill="#4a4a52" textLength="17.8" lengthAdjust="spacingAndGlyphs">1.66</text>
<text x="0" y="0" transform="translate(51.2,812.7) rotate(-90)" font-size="11.6" fill="#4a4a52" textLength="17.7" lengthAdjust="spacingAndGlyphs">1.02</text>
<text x="0" y="0" transform="translate(109.7,826.0) rotate(-90)" font-size="11.6" fill="#4a4a52" textLength="12.4" lengthAdjust="spacingAndGlyphs">1/4</text>
<text x="138.2" y="793.9" font-size="10.8" fill="#4a4a52" font-weight="normal" text-anchor="start" textLength="74.7" lengthAdjust="spacingAndGlyphs">Ball contact (ø0.12)</text>
<text x="138.2" y="811.0" font-size="11.6" fill="#222" font-weight="bold" text-anchor="start" textLength="48.9" lengthAdjust="spacingAndGlyphs">21BZB005</text>
<text x="138.2" y="823.3" font-size="11.8" fill="#4a4a52" font-weight="normal" text-anchor="start" textLength="95.4" lengthAdjust="spacingAndGlyphs">(thread: No. 4-48UNF)</text>
<text x="0" y="0" transform="translate(195.6,665.8) rotate(-90)" font-size="11.6" fill="#4a4a52" textLength="21.2" lengthAdjust="spacingAndGlyphs">ø2.32</text>
<text x="233.8" y="795.0" font-size="11.6" fill="#4a4a52" font-weight="normal" text-anchor="start" textLength="23.2" lengthAdjust="spacingAndGlyphs">ø0.19</text>
<text x="230.2" y="550.4" font-size="11.6" fill="#4a4a52" font-weight="normal" text-anchor="start" textLength="15.4" lengthAdjust="spacingAndGlyphs">1.31</text>
<text x="262.8" y="550.4" font-size="11.6" fill="#4a4a52" font-weight="normal" text-anchor="start" textLength="17.2" lengthAdjust="spacingAndGlyphs">0.43</text>
<text x="459.7" y="549.5" font-size="11.6" fill="#4a4a52" font-weight="normal" text-anchor="start" textLength="22.2" lengthAdjust="spacingAndGlyphs">ø19.2</text>
<text x="0" y="0" transform="translate(396.8,617.0) rotate(-90)" font-size="11.6" fill="#4a4a52" textLength="17.4" lengthAdjust="spacingAndGlyphs">57.7</text>
<text x="574.8" y="549.8" font-size="11.6" fill="#4a4a52" font-weight="normal" text-anchor="start" textLength="17.2" lengthAdjust="spacingAndGlyphs">33.2</text>
<text x="613.4" y="549.8" font-size="11.6" fill="#4a4a52" font-weight="normal" text-anchor="start" textLength="8.3" lengthAdjust="spacingAndGlyphs">11</text>
<text x="0" y="0" transform="translate(396.8,728.6) rotate(-90)" font-size="11.6" fill="#4a4a52" textLength="17.4" lengthAdjust="spacingAndGlyphs">84.8</text>
<text x="0" y="0" transform="translate(412.0,711.7) rotate(-90)" font-size="11.6" fill="#4a4a52" textLength="8.3" lengthAdjust="spacingAndGlyphs">70</text>
<text x="0" y="0" transform="translate(426.4,756.8) rotate(-90)" font-size="11.6" fill="#4a4a52" textLength="17.1" lengthAdjust="spacingAndGlyphs">19.5</text>
<text x="485.6" y="748.0" font-size="11.6" fill="#4a4a52" font-weight="normal" text-anchor="start" textLength="10.3" lengthAdjust="spacingAndGlyphs">ø8</text>
<text x="498.6" y="742.8" font-size="4.6" fill="#4a4a52" font-weight="normal" text-anchor="start">0</text>
<text x="497.8" y="748.1" font-size="4.6" fill="#4a4a52" font-weight="normal" text-anchor="start" textLength="13.5" lengthAdjust="spacingAndGlyphs">-0.009</text>
<text x="0" y="0" transform="translate(395.7,812.3) rotate(-90)" font-size="11.6" fill="#4a4a52" textLength="9.3" lengthAdjust="spacingAndGlyphs">26</text>
<text x="0" y="0" transform="translate(426.5,808.6) rotate(-90)" font-size="11.6" fill="#4a4a52" textLength="16.6" lengthAdjust="spacingAndGlyphs">40.8</text>
<text x="0" y="0" transform="translate(453.2,827.2) rotate(-90)" font-size="11.6" fill="#4a4a52" textLength="11.2" lengthAdjust="spacingAndGlyphs">7.3</text>
<text x="483.1" y="795.8" font-size="10.8" fill="#4a4a52" font-weight="normal" text-anchor="start" textLength="62.3" lengthAdjust="spacingAndGlyphs">Ball contact (ø3)</text>
<text x="483.1" y="811.0" font-size="11.6" fill="#222" font-weight="bold" text-anchor="start" textLength="31.3" lengthAdjust="spacingAndGlyphs">901312</text>
<text x="483.1" y="821.0" font-size="10.6" fill="#4a4a52" font-weight="normal" text-anchor="start" textLength="78.6" lengthAdjust="spacingAndGlyphs">(thread: M2.5×0.45)</text>
<text x="582.0" y="793.8" font-size="11.6" fill="#4a4a52" font-weight="normal" text-anchor="start" textLength="17.4" lengthAdjust="spacingAndGlyphs">ø4.8</text>
<text x="0" y="0" transform="translate(541.4,662.1) rotate(-90)" font-size="11.6" fill="#4a4a52" textLength="15.4" lengthAdjust="spacingAndGlyphs">ø59</text>
</svg>
</body></html>
